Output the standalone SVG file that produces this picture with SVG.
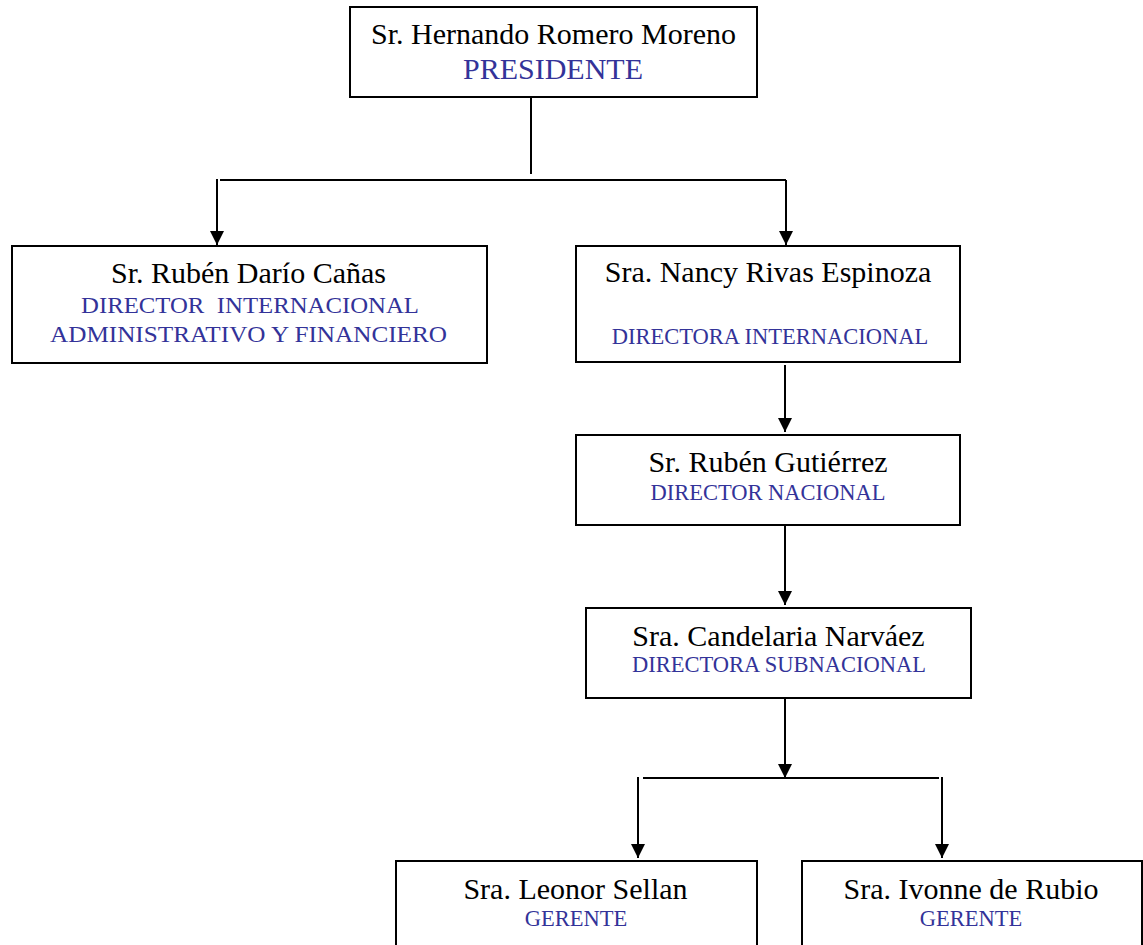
<svg xmlns="http://www.w3.org/2000/svg" width="1143" height="945" viewBox="0 0 1143 945">
  <style>
    .box { fill: #ffffff; stroke: #000000; stroke-width: 2; }
    .name { font-family: "Liberation Serif", "Times New Roman", serif; font-size: 30px; fill: #000000; text-anchor: middle; }
    .role { font-family: "Liberation Serif", "Times New Roman", serif; font-size: 22.5px; fill: #333399; text-anchor: middle; white-space: pre; }
    .role-lg { font-size: 30px; }
    .link { fill: none; stroke: #000000; stroke-width: 2; }
  </style>
  <defs>
    <marker id="arrow" viewBox="0 0 14 14" refX="14" refY="7" markerWidth="14" markerHeight="14" markerUnits="userSpaceOnUse" orient="auto">
      <path d="M0,0 L14,7 L0,14 Z" fill="#000000"/>
    </marker>
  </defs>

  <rect width="1143" height="945" fill="#ffffff"/>

  <!-- reporting lines -->
  <g id="connectors">
    <line class="link" x1="531" y1="97" x2="531" y2="174"/>
    <line class="link" x1="220" y1="180" x2="786" y2="180"/>
    <line class="link" x1="217" y1="179" x2="217" y2="245" marker-end="url(#arrow)"/>
    <line class="link" x1="786" y1="180" x2="786" y2="245" marker-end="url(#arrow)"/>
    <line class="link" x1="785" y1="365" x2="785" y2="432" marker-end="url(#arrow)"/>
    <line class="link" x1="785" y1="526" x2="785" y2="605" marker-end="url(#arrow)"/>
    <line class="link" x1="785" y1="698" x2="785" y2="778" marker-end="url(#arrow)"/>
    <line class="link" x1="643" y1="778" x2="939" y2="778"/>
    <line class="link" x1="638" y1="777" x2="638" y2="858" marker-end="url(#arrow)"/>
    <line class="link" x1="942" y1="777" x2="942" y2="858" marker-end="url(#arrow)"/>
  </g>

  <g id="presidente">
    <rect class="box" x="350" y="7" width="407" height="90"/>
    <text class="name" x="553.5" y="44">Sr. Hernando Romero Moreno</text>
    <text class="role role-lg" x="553" y="79">PRESIDENTE</text>
  </g>

  <g id="director-admin">
    <rect class="box" x="12" y="246" width="475" height="117"/>
    <text class="name" x="248.5" y="283">Sr. Rubén Darío Cañas</text>
    <text class="role" x="250" y="313" textLength="338" lengthAdjust="spacingAndGlyphs">DIRECTOR  INTERNACIONAL</text>
    <text class="role" x="248.5" y="342" textLength="397" lengthAdjust="spacingAndGlyphs">ADMINISTRATIVO Y FINANCIERO</text>
  </g>

  <g id="directora-internacional">
    <rect class="box" x="576" y="246" width="384" height="116"/>
    <text class="name" x="768" y="282">Sra. Nancy Rivas Espinoza</text>
    <text class="role" x="770" y="344">DIRECTORA INTERNACIONAL</text>
  </g>

  <g id="director-nacional">
    <rect class="box" x="576" y="435" width="384" height="90"/>
    <text class="name" x="768" y="472">Sr. Rubén Gutiérrez</text>
    <text class="role" x="768" y="500">DIRECTOR NACIONAL</text>
  </g>

  <g id="directora-subnacional">
    <rect class="box" x="586" y="608" width="385" height="90"/>
    <text class="name" x="778.5" y="646">Sra. Candelaria Narváez</text>
    <text class="role" x="779" y="672">DIRECTORA SUBNACIONAL</text>
  </g>

  <g id="gerente-sellan">
    <rect class="box" x="396" y="861" width="361" height="110"/>
    <text class="name" x="575.5" y="899">Sra. Leonor Sellan</text>
    <text class="role" x="576" y="926">GERENTE</text>
  </g>

  <g id="gerente-rubio">
    <rect class="box" x="802" y="861" width="340" height="110"/>
    <text class="name" x="971" y="899">Sra. Ivonne de Rubio</text>
    <text class="role" x="971" y="926">GERENTE</text>
  </g>
</svg>
